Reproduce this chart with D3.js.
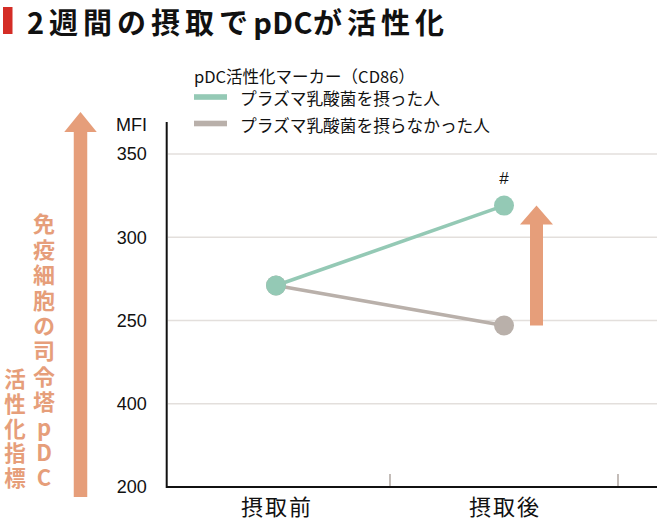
<!DOCTYPE html>
<html>
<head>
<meta charset="utf-8">
<script src="https://cdn.jsdelivr.net/npm/d3@7/dist/d3.min.js"></script>
<style>
  html, body { margin: 0; padding: 0; background: #fff; }
  svg { display: block; }
  .jp { font-family: "Noto Sans CJK JP", "Noto Sans", sans-serif; }
  .lat { font-family: "Liberation Sans", Arial, sans-serif; }
</style>
</head>
<body>
<svg id="chart" width="657" height="522"></svg>
<script>
// ---- data ----
const titleParts = ["2週間の摂取で", "pDC", "が活性化"];
const legendTitle = "pDC活性化マーカー（CD86）";
const seriesNames = ["プラズマ乳酸菌を摂った人", "プラズマ乳酸菌を摂らなかった人"];
const categories = ["摂取前", "摂取後"];
const takenValues = [271, 319];
const notTakenValues = [271, 247];
const yTickValues = [150, 200, 250, 300, 350];
const yTickLabels = ["200", "400", "250", "300", "350"];
const yUnit = "MFI";
const annotation = "#";
const sideTextMain = "免疫細胞の司令塔pDC";
const sideTextSub = "活性化指標";

const colors = { taken: "#94c9b5", notTaken: "#b9b0aa", accent: "#e69e7a", red: "#d42d26", grid: "#e3dfdc" };

const svg = d3.select("#chart");

// scales
const x = d3.scaleBand().domain(categories).range([162, 618]).padding(0);
const y = d3.scaleLinear().domain([150, 350]).range([487, 154]);

// title
svg.append("rect").attr("x", 3).attr("y", 7).attr("width", 9.5).attr("height", 27).attr("fill", colors.red);
const title = svg.append("text").attr("class", "jp").attr("x", 27).attr("y", 20.5)
  .attr("dominant-baseline", "central")
  .attr("font-size", 29).attr("font-weight", 700)
  .attr("fill", "#111");
title.selectAll("tspan").data(titleParts).join("tspan")
  .attr("letter-spacing", (d, i) => i === 1 ? 0.5 : 5)
  .text(d => d);

// gridlines
svg.append("g").selectAll("line").data(yTickValues.filter(v => v > 150)).join("line")
  .attr("x1", 168).attr("x2", 657)
  .attr("y1", d => y(d)).attr("y2", d => y(d))
  .attr("stroke", colors.grid).attr("stroke-width", 1.6);

// bottom category ticks (band boundaries)
svg.append("g").selectAll("line").data(categories).join("line")
  .attr("x1", d => x(d) + x.bandwidth()).attr("x2", d => x(d) + x.bandwidth())
  .attr("y1", 474).attr("y2", 487)
  .attr("stroke", "#b5aca7").attr("stroke-width", 1.6);

// y axis
const yAxis = d3.axisLeft(y).tickValues(yTickValues)
  .tickFormat((d, i) => yTickLabels[i]).tickSize(0).tickPadding(20);
const gy = svg.append("g").attr("transform", "translate(166.7,0)").call(yAxis);
gy.select(".domain").remove();
gy.selectAll("text").attr("class", "lat").attr("font-size", 18).attr("fill", "#111");
svg.append("line").attr("x1", 166.7).attr("x2", 166.7).attr("y1", 122).attr("y2", 488)
  .attr("stroke", "#111").attr("stroke-width", 2);
svg.append("text").attr("class", "lat").attr("x", 147).attr("y", 125)
  .attr("dominant-baseline", "central").attr("text-anchor", "end")
  .attr("font-size", 18).attr("fill", "#111").text(yUnit);

// x axis
const xAxis = d3.axisBottom(x).tickSize(0).tickPadding(12);
const gx = svg.append("g").attr("transform", "translate(0,487)").call(xAxis);
gx.select(".domain").remove();
gx.selectAll("text").attr("class", "jp").attr("font-size", 22).attr("letter-spacing", 2)
  .attr("dx", 1).attr("fill", "#111");
svg.append("line").attr("x1", 166).attr("x2", 657).attr("y1", 487).attr("y2", 487)
  .attr("stroke", "#111").attr("stroke-width", 2);

// lines + points
const cx = d => x(d) + x.bandwidth() / 2;
const series = [
  { name: seriesNames[1], values: notTakenValues, color: colors.notTaken },
  { name: seriesNames[0], values: takenValues, color: colors.taken }
];
const line = d3.line().x((d, i) => cx(categories[i])).y(d => y(d));
series.forEach(s => {
  svg.append("path").datum(s.values).attr("d", line)
    .attr("fill", "none").attr("stroke", s.color).attr("stroke-width", 3.6);
});
series.forEach(s => {
  svg.append("g").selectAll("circle").data(s.values).join("circle")
    .attr("cx", (d, i) => cx(categories[i])).attr("cy", d => y(d)).attr("r", 10)
    .attr("fill", s.color);
});

// annotation #
svg.append("text").attr("class", "lat").attr("x", cx(categories[1])).attr("y", 178)
  .attr("dominant-baseline", "central").attr("text-anchor", "middle")
  .attr("font-size", 17).attr("fill", "#111").text(annotation);

// arrows
function arrowPath(xc, yTip, yBottom, shaftW, headW, headH) {
  return `M${xc - shaftW / 2},${yBottom} L${xc - shaftW / 2},${yTip + headH} L${xc - headW / 2},${yTip + headH} L${xc},${yTip} L${xc + headW / 2},${yTip + headH} L${xc + shaftW / 2},${yTip + headH} L${xc + shaftW / 2},${yBottom} Z`;
}
svg.append("path")
  .attr("d", arrowPath(cx(categories[1]) + 32.5, y(takenValues[1]), y(notTakenValues[1]), 13, 33, 19))
  .attr("fill", colors.accent);
svg.append("path").attr("d", arrowPath(80.5, 112, 497, 13.5, 32.5, 20)).attr("fill", colors.accent);

// vertical side texts
svg.append("text").attr("class", "jp").attr("x", 44).attr("y", 213)
  .style("writing-mode", "vertical-rl").style("text-orientation", "upright")
  .attr("font-size", 22).attr("font-weight", 700).attr("letter-spacing", 3.4)
  .attr("fill", colors.accent).text(sideTextMain);
svg.append("text").attr("class", "jp").attr("x", 15).attr("y", 368)
  .style("writing-mode", "vertical-rl").style("text-orientation", "upright")
  .attr("font-size", 21.5).attr("font-weight", 700).attr("letter-spacing", 3.3)
  .attr("fill", colors.accent).text(sideTextSub);

// legend
svg.append("text").attr("class", "jp").attr("x", 194).attr("y", 76)
  .attr("dominant-baseline", "central").attr("font-size", 16.5).attr("fill", "#111").text(legendTitle);
const legItems = [
  { name: seriesNames[0], color: colors.taken, y: 97 },
  { name: seriesNames[1], color: colors.notTaken, y: 123.5 }
];
legItems.forEach(it => {
  svg.append("rect").attr("x", 194).attr("y", it.y - 2.8).attr("width", 33).attr("height", 5.6).attr("fill", it.color);
  svg.append("text").attr("class", "jp").attr("x", 240).attr("y", it.y + 1)
    .attr("dominant-baseline", "central").attr("font-size", 16.7).attr("fill", "#111").text(it.name);
});
</script>
</body>
</html>
